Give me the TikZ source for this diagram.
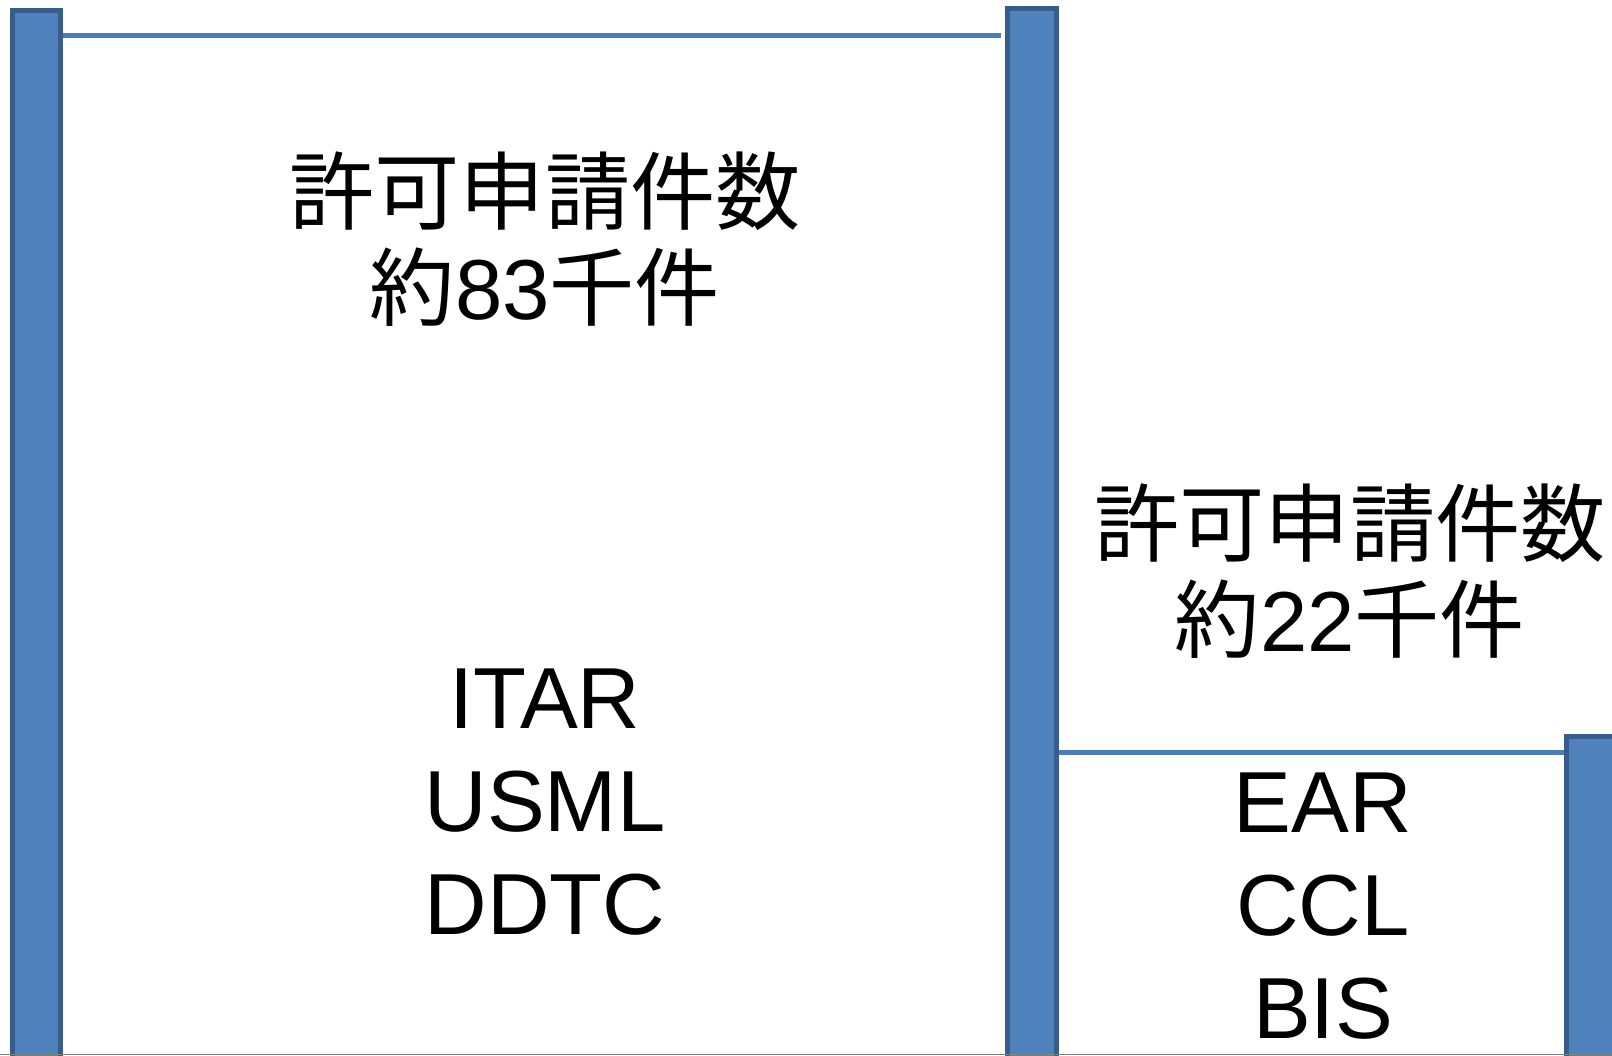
\documentclass[tikz,border=0pt]{standalone}
\usepackage{fontspec}
\setmainfont{Liberation Sans}
\newfontfamily\cjk{Noto Sans CJK JP}
\definecolor{barfill}{HTML}{4F81BD}
\definecolor{barline}{HTML}{385D8A}
\definecolor{rule}{HTML}{4A7EBB}
\newcommand\nolsk{\lineskiplimit=-200bp\relax}
\tikzset{
  bar/.style={fill=barfill,draw=barline,line width=5bp},
  hline/.style={draw=rule,line width=5bp},
  jtxt/.style={align=center,inner sep=0pt,font=\cjk\fontsize{85.5}{97}\selectfont\nolsk},
  ltxt/.style={align=center,inner sep=0pt,font=\fontsize{87}{103.5}\selectfont\nolsk},
}
\begin{document}
\begin{tikzpicture}[x=1bp,y=-1bp]
\useasboundingbox (0,0) rectangle (1612,1055);
\clip (0,0) rectangle (1612,1055);
\fill[white] (0,0) rectangle (1612,1055);
% lines
\coordinate (l1a) at (61,35.5);
\coordinate (l1b) at (1001,35.5);
\coordinate (l2a) at (1055,752);
\coordinate (l2b) at (1568,752);
\draw[hline] (l1a) -- (l1b);
\draw[hline] (l2a) -- (l2b);
% bars
\path[bar] (12.5,1070) rectangle (60.5,10.5);
\path[bar] (1007.5,1070) rectangle (1056.5,8.5);
\path[bar] (1566.5,1070) rectangle (1630,736.5);
% bottom rule
\draw[gray,line width=1.5bp] (0,1054.5) -- (1612,1054.5);
% texts
\node[jtxt] (t1) at (545,239) {許可申請件数\\約{\fontspec{Liberation Sans}83}千件};
\node[ltxt] (t2) at (545,802) {ITAR\\USML\\DDTC};
\node[jtxt] (t3) at (1350,571) {許可申請件数\\約{\fontspec{Liberation Sans}22}千件};
\node[ltxt] (t4) at (1323,906) {EAR\\CCL\\BIS};
\end{tikzpicture}
\end{document}
